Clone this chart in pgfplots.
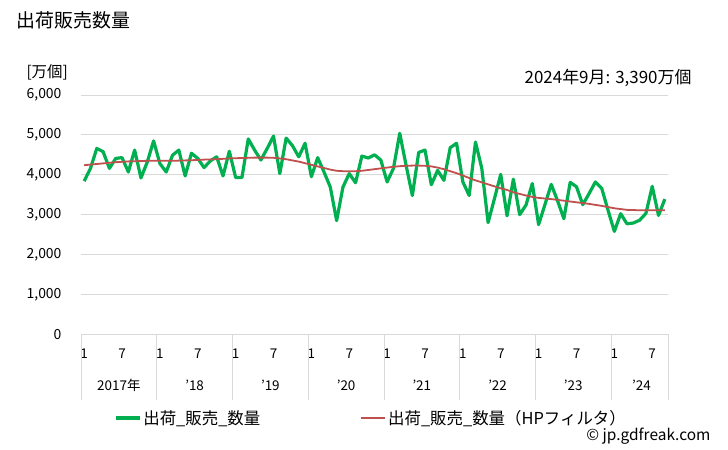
\documentclass[border=0pt]{standalone}
\usepackage{pgfplots}
\pgfplotsset{compat=1.18}
\usepackage{fontspec}
\setmainfont{Noto Sans CJK JP}
\definecolor{cgreen}{RGB}{0,176,80}
\definecolor{cred}{RGB}{192,80,77}
\definecolor{cgrid}{RGB}{217,217,217}
\pgfplotstableread{
i v
0 3840
1 4160
2 4660
3 4580
4 4160
5 4410
6 4430
7 4070
8 4620
9 3920
10 4320
11 4850
12 4280
13 4070
14 4490
15 4620
16 3970
17 4540
18 4410
19 4180
20 4350
21 4450
22 3970
23 4590
24 3930
25 3930
26 4900
27 4620
28 4370
29 4660
30 4970
31 4030
32 4920
33 4730
34 4450
35 4790
36 3950
37 4430
38 4070
39 3690
40 2850
41 3690
42 4030
43 3800
44 4470
45 4420
46 4500
47 4370
48 3820
49 4160
50 5040
51 4240
52 3480
53 4560
54 4620
55 3750
56 4110
57 3860
58 4680
59 4790
60 3820
61 3480
62 4820
63 4160
64 2800
65 3400
66 4010
67 2970
68 3890
69 3000
70 3240
71 3780
72 2750
73 3250
74 3760
75 3350
76 2900
77 3810
78 3700
79 3250
80 3530
81 3820
82 3660
83 3110
84 2580
85 3025
86 2770
87 2790
88 2860
89 3030
90 3710
91 2980
92 3390
}\raw
\pgfplotstableread{
i v
0 4240
1 4255
2 4270
3 4285
4 4300
5 4315
6 4325
7 4335
8 4340
9 4345
10 4350
11 4350
12 4350
13 4350
14 4350
15 4355
16 4360
17 4365
18 4370
19 4380
20 4385
21 4390
22 4400
23 4410
24 4415
25 4420
26 4425
27 4430
28 4430
29 4430
30 4425
31 4410
32 4390
33 4360
34 4330
35 4290
36 4250
37 4210
38 4170
39 4130
40 4100
41 4090
42 4085
43 4090
44 4100
45 4120
46 4140
47 4160
48 4180
49 4200
50 4215
51 4225
52 4230
53 4230
54 4225
55 4210
56 4180
57 4140
58 4090
59 4040
60 3980
61 3920
62 3860
63 3810
64 3760
65 3710
66 3660
67 3620
68 3560
69 3520
70 3480
71 3445
72 3420
73 3405
74 3390
75 3370
76 3350
77 3330
78 3310
79 3290
80 3270
81 3245
82 3220
83 3190
84 3160
85 3140
86 3120
87 3115
88 3110
89 3110
90 3110
91 3110
92 3110
}\hp
\begin{document}
\begin{tikzpicture}
\path[use as bounding box] (0bp,0bp) rectangle (728bp,450bp);
\node[anchor=west,font=\fontsize{19}{21}\selectfont] at (13bp,430bp) {出荷販売数量};
\node[anchor=west,font=\fontsize{15.5}{17}\selectfont] at (23bp,378bp) {[万個]};
\node[anchor=east,font=\fontsize{17}{19}\selectfont] at (695bp,372bp) {2024年9月: 3,390万個};
\node[anchor=east,font=\fontsize{15.5}{17}\selectfont] at (714bp,14bp) {© jp.gdfreak.com};
\begin{axis}[
  at={(81bp,115.7bp)}, anchor=south west,
  scale only axis, width=587bp, height=239.3bp,
  xmin=-0.5, xmax=92.5, ymin=0, ymax=6000,
  axis line style={draw=none},
  tick style={draw=none},
  ytick={0,1000,...,6000},
  ymajorgrids, grid style={cgrid, line width=0.8bp},
  xtick={0,6,...,90},
  xticklabels={1,7,1,7,1,7,1,7,1,7,1,7,1,7,1,7},
  /pgf/number format/assume math mode=true,
  /pgf/number format/1000 sep={,},
  yticklabel style={font=\fontsize{14}{16}\selectfont, anchor=east, xshift=-16bp},
  xticklabel style={font=\fontsize{13.5}{15}\selectfont, anchor=north, yshift=-11bp},
  clip=false,
  legend style={at={(0.494,-0.35)}, anchor=center, draw=none, fill=none,
    font=\fontsize{16.5}{19}\selectfont,
    /tikz/every even column/.append style={column sep=98bp}},
  legend columns=2,
  legend cell align=left,
  legend image code/.code={\draw[#1] (0bp,0bp) -- (24bp,0bp);},
]
\addplot[cgreen, line width=3.2bp, line join=round] table[x=i,y=v] {\raw};
\addlegendentry{出荷\_販売\_数量}
\addplot[cred, line width=1.8bp] table[x=i,y=v] {\hp};
\addlegendentry{出荷\_販売\_数量（HPフィルタ）}
\foreach \s in {-0.5,11.5,23.5,35.5,47.5,59.5,71.5,83.5,92.5} {
  \edef\temp{\noexpand\draw[cgrid, line width=0.8bp] (axis cs:\s,0) -- ++(0bp,-66bp);}
  \temp
}
\foreach \c/\t in {5.5/2017年,17.5/'18,29.5/'19,41.5/'20,53.5/'21,65.5/'22,77.5/'23,88.3/'24} {
  \edef\temp{\noexpand\node[font=\noexpand\fontsize{13.5}{15}\noexpand\selectfont] at (axis cs:\c,0) [yshift=-51bp] {\t};}
  \temp
}
\end{axis}
\end{tikzpicture}
\end{document}
